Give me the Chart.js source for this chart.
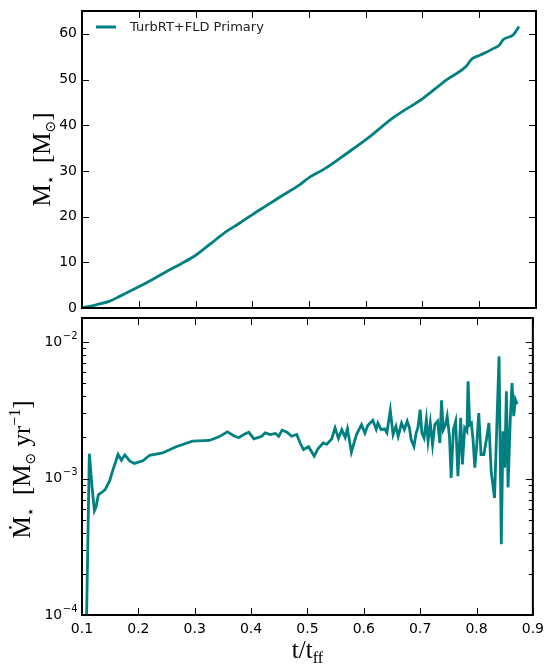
<!DOCTYPE html>
<html>
<head>
<meta charset="utf-8">
<script src="https://cdn.jsdelivr.net/npm/chart.js@4.4.1/dist/chart.umd.min.js"></script>
<style>
    html, body { margin: 0; padding: 0; background: #fff; }
    canvas { display: block; }
</style>
</head>
<body>
<canvas id="mass-chart" width="550" height="312"></canvas>
<canvas id="rate-chart" width="550" height="353"></canvas>
<script>
(function () {
    "use strict";

    // Data
    const seriesLabel = "TurbRT+FLD Primary";

    const massTime = [0.100, 0.125, 0.149, 0.167, 0.185, 0.201, 0.225, 0.249, 0.275, 0.301,
        0.327, 0.354, 0.378, 0.401, 0.425, 0.449, 0.484, 0.502, 0.528, 0.565,
        0.602, 0.649, 0.701, 0.743, 0.777, 0.786, 0.801, 0.822, 0.836, 0.842,
        0.860, 0.870];
    const massValues = [0, 0.7, 1.5, 2.6, 3.7, 4.7, 6.3, 8.0, 9.7, 11.6,
        14.1, 16.7, 18.6, 20.5, 22.4, 24.3, 27.0, 28.7, 30.5, 33.7,
        37.0, 41.7, 45.9, 50.0, 52.9, 54.4, 55.3, 56.6, 57.6, 58.7,
        59.8, 61.6];

    const rateTime = [0.107, 0.113, 0.118, 0.122, 0.125, 0.129, 0.135, 0.141, 0.149, 0.155,
        0.164, 0.170, 0.176, 0.185, 0.193, 0.208, 0.220, 0.243, 0.267, 0.296,
        0.326, 0.343, 0.358, 0.370, 0.378, 0.387, 0.396, 0.405, 0.419, 0.425,
        0.434, 0.443, 0.449, 0.455, 0.464, 0.472, 0.481, 0.487, 0.493, 0.502,
        0.512, 0.519, 0.528, 0.534, 0.543, 0.549, 0.555, 0.561, 0.567, 0.571,
        0.578, 0.587, 0.596, 0.602, 0.607, 0.616, 0.622, 0.625, 0.631, 0.637,
        0.641, 0.647, 0.652, 0.657, 0.661, 0.667, 0.672, 0.677, 0.681, 0.684,
        0.689, 0.693, 0.696, 0.700, 0.703, 0.707, 0.711, 0.714, 0.718, 0.722,
        0.726, 0.731, 0.735, 0.738, 0.741, 0.745, 0.748, 0.752, 0.755, 0.759,
        0.763, 0.767, 0.772, 0.775, 0.779, 0.783, 0.785, 0.788, 0.791, 0.794,
        0.797, 0.800, 0.804, 0.808, 0.813, 0.818, 0.822, 0.826, 0.832, 0.835,
        0.840, 0.844, 0.847, 0.850, 0.853, 0.856, 0.860, 0.863, 0.866, 0.869,
        0.872];
    const rateValues = [5e-5, 1.52e-3, 8.5e-4, 5.8e-4, 6.2e-4, 7.6e-4, 7.9e-4, 8.3e-4, 9.6e-4, 1.16e-3,
        1.50e-3, 1.36e-3, 1.49e-3, 1.34e-3, 1.29e-3, 1.35e-3, 1.48e-3, 1.54e-3, 1.71e-3, 1.88e-3,
        1.90e-3, 2.02e-3, 2.20e-3, 2.05e-3, 1.99e-3, 2.10e-3, 2.18e-3, 1.95e-3, 2.04e-3, 2.16e-3,
        2.10e-3, 2.14e-3, 2.04e-3, 2.26e-3, 2.18e-3, 2.04e-3, 2.10e-3, 1.82e-3, 1.63e-3, 1.71e-3,
        1.46e-3, 1.66e-3, 1.82e-3, 1.78e-3, 1.95e-3, 2.35e-3, 1.97e-3, 2.28e-3, 2.00e-3, 2.32e-3,
        1.56e-3, 2.10e-3, 2.48e-3, 2.15e-3, 2.45e-3, 2.67e-3, 2.30e-3, 2.55e-3, 2.28e-3, 2.31e-3,
        2.16e-3, 3.16e-3, 2.10e-3, 2.41e-3, 2.04e-3, 2.55e-3, 2.28e-3, 2.63e-3, 2.35e-3, 1.93e-3,
        1.72e-3, 2.16e-3, 2.35e-3, 3.20e-3, 2.16e-3, 1.98e-3, 2.70e-3, 1.88e-3, 2.55e-3, 1.77e-3,
        2.48e-3, 2.63e-3, 1.82e-3, 3.74e-3, 2.28e-3, 2.48e-3, 2.86e-3, 2.04e-3, 1.01e-3, 2.28e-3,
        2.63e-3, 1.04e-3, 2.78e-3, 1.27e-3, 2.35e-3, 2.22e-3, 5.15e-3, 2.48e-3, 2.55e-3, 1.88e-3,
        1.20e-3, 1.68e-3, 3.02e-3, 1.50e-3, 1.50e-3, 1.98e-3, 2.55e-3, 1.13e-3, 7.2e-4, 1.78e-3,
        7.85e-3, 3.3e-4, 2.22e-3, 1.20e-3, 4.35e-3, 8.6e-4, 2.78e-3, 5.0e-3, 2.86e-3, 3.78e-3,
        3.50e-3];

    const timeTicks = [0.1, 0.2, 0.3, 0.4, 0.5, 0.6, 0.7, 0.8, 0.9];
    const massTicks = [0, 10, 20, 30, 40, 50, 60];
    const rateTicks = [1e-4, 1e-3, 1e-2];

    const TEAL = "#008080";
    const TICK_FONT = {family: "'DejaVu Sans', sans-serif", size: 14};
    const SERIF = "'Liberation Serif', 'DejaVu Serif', serif";
    const SYM = "'DejaVu Sans', sans-serif";

    // Inward ticks on all four sides, plus the black frame
    const frameTicks = {
        id: 'frameTicks',
        afterDraw(chart) {
            const ctx = chart.ctx;
            const a = chart.chartArea;
            const xs = chart.scales.x;
            const ys = chart.scales.y;
            ctx.save();
            ctx.strokeStyle = '#000';
            ctx.lineWidth = 1;
            ctx.beginPath();
            xs.ticks.forEach(function (t) {
                const px = Math.round(xs.getPixelForValue(t.value)) + 0.5;
                ctx.moveTo(px, a.bottom); ctx.lineTo(px, a.bottom - 7);
                ctx.moveTo(px, a.top); ctx.lineTo(px, a.top + 7);
            });
            ys.ticks.forEach(function (t) {
                const py = Math.round(ys.getPixelForValue(t.value)) + 0.5;
                ctx.moveTo(a.left, py); ctx.lineTo(a.left + 7, py);
                ctx.moveTo(a.right, py); ctx.lineTo(a.right - 7, py);
            });
            if (ys.type === 'logarithmic') {
                for (let d = ys.min; d < ys.max; d *= 10) {
                    for (let m = 2; m <= 9; m++) {
                        const v = d * m;
                        if (v > ys.max) break;
                        const py = Math.round(ys.getPixelForValue(v)) + 0.5;
                        ctx.moveTo(a.left, py); ctx.lineTo(a.left + 4, py);
                        ctx.moveTo(a.right, py); ctx.lineTo(a.right - 4, py);
                    }
                }
            }
            ctx.stroke();
            ctx.lineWidth = 2;
            ctx.strokeRect(a.left, a.top, a.right - a.left, a.bottom - a.top);
            ctx.restore();
        }
    };

    // Text made of pieces with their own size and offset (sub/superscripts)
    function drawRich(ctx, parts, cx, cy, angle) {
        ctx.save();
        ctx.translate(cx, cy);
        ctx.rotate(angle);
        ctx.fillStyle = '#000';
        ctx.textAlign = 'left';
        ctx.textBaseline = 'alphabetic';
        let w = 0;
        parts.forEach(function (p) {
            ctx.font = p.font;
            p.w = ctx.measureText(p.text).width;
            w += p.w;
        });
        let x = -w / 2;
        parts.forEach(function (p) {
            ctx.font = p.font;
            ctx.fillText(p.text, x, p.dy || 0);
            x += p.w;
        });
        ctx.restore();
    }

    const main = '25px ' + SERIF;
    const small = '16px ' + SERIF;
    const sym = '14px ' + SYM;

    const massTitle = {
        id: 'massTitle',
        afterDraw(chart) {
            const a = chart.chartArea;
            drawRich(chart.ctx, [
                {text: 'M', font: main},
                {text: '\u22C6', font: sym, dy: 5},
                {text: '  [M', font: main},
                {text: '\u2299', font: sym, dy: 5},
                {text: ']', font: main}
            ], 50, (a.top + a.bottom) / 2, -Math.PI / 2);
        }
    };

    const rateTitles = {
        id: 'rateTitles',
        afterDraw(chart) {
            const a = chart.chartArea;
            drawRich(chart.ctx, [
                {text: '\u1E40', font: main},
                {text: '\u22C6', font: sym, dy: 5},
                {text: '  [M', font: main},
                {text: '\u2299', font: sym, dy: 5},
                {text: ' yr', font: main},
                {text: '\u22121', font: small, dy: -10},
                {text: ']', font: main}
            ], 30, (a.top + a.bottom) / 2 + 3, -Math.PI / 2);
            drawRich(chart.ctx, [
                {text: 't/t', font: main},
                {text: 'ff', font: small, dy: 5}
            ], (a.left + a.right) / 2, a.bottom + 43, 0);
        }
    };

    // Log tick labels as 10 with a raised exponent
    const powerLabels = {
        id: 'powerLabels',
        afterDraw(chart) {
            const ctx = chart.ctx;
            const ys = chart.scales.y;
            const right = chart.chartArea.left - 5;
            ctx.save();
            ctx.fillStyle = '#000';
            ctx.textBaseline = 'middle';
            ctx.textAlign = 'left';
            ys.ticks.forEach(function (t) {
                const py = ys.getPixelForValue(t.value);
                const exp = '\u2212' + Math.round(-Math.log10(t.value));
                ctx.font = '14px ' + SYM;
                const wb = ctx.measureText('10').width;
                ctx.font = '10px ' + SYM;
                const we = ctx.measureText(exp).width;
                const x0 = right - wb - we;
                ctx.font = '14px ' + SYM;
                ctx.fillText('10', x0, py);
                ctx.font = '10px ' + SYM;
                ctx.fillText(exp, x0 + wb + 0.5, py - 6);
            });
            ctx.restore();
        }
    };

    // Legend inside the upper left corner
    const insideLegend = {
        id: 'insideLegend',
        afterDraw(chart) {
            const ctx = chart.ctx;
            const a = chart.chartArea;
            const ds = chart.data.datasets[0];
            const y = a.top + 16;
            ctx.save();
            ctx.strokeStyle = ds.borderColor;
            ctx.lineWidth = 3;
            ctx.beginPath();
            ctx.moveTo(a.left + 14, y);
            ctx.lineTo(a.left + 34, y);
            ctx.stroke();
            ctx.fillStyle = '#222';
            ctx.font = '13px ' + SYM;
            ctx.textBaseline = 'middle';
            ctx.fillText(ds.label, a.left + 48, y + 0.5);
            ctx.restore();
        }
    };

    function points(xs, ys) {
        return xs.map(function (x, i) {
            return {x: x, y: ys[i]};
        });
    }

    function fixTicks(list) {
        return function (scale) {
            scale.ticks = list.map(function (v) {
                return {value: v};
            });
        };
    }

    // keep edge labels from shrinking the plot area
    function yFit(scale) {
        scale.width = 82;
        scale.paddingTop = 0;
        scale.paddingBottom = 0;
    }

    const noGrid = {display: false, drawTicks: false};

    // Stellar mass
    const massChart = new Chart(document.getElementById('mass-chart'), {
        type: 'line',
        data: {
            datasets: [{
                label: seriesLabel,
                data: points(massTime, massValues),
                borderColor: TEAL,
                borderWidth: 2.8,
                pointRadius: 0,
                cubicInterpolationMode: 'monotone',
                fill: false
            }]
        },
        options: {
            responsive: false,
            animation: false,
            devicePixelRatio: 1,
            layout: {padding: {top: 11, right: 14, bottom: 0, left: 0}},
            plugins: {legend: {display: false}, tooltip: {enabled: false}},
            scales: {
                x: {
                    type: 'linear', min: 0.1, max: 0.9,
                    afterBuildTicks: fixTicks(timeTicks),
                    ticks: {display: false},
                    grid: noGrid,
                    border: {display: false},
                    afterFit: function (s) { s.height = 4; s.paddingLeft = 0; s.paddingRight = 0; }
                },
                y: {
                    type: 'linear', min: 0, max: 65,
                    afterBuildTicks: fixTicks(massTicks),
                    ticks: {font: TICK_FONT, color: '#000', padding: 5},
                    grid: noGrid,
                    border: {display: false},
                    afterFit: yFit
                }
            }
        },
        plugins: [frameTicks, insideLegend, massTitle]
    });

    // Accretion rate
    const rateChart = new Chart(document.getElementById('rate-chart'), {
        type: 'line',
        data: {
            datasets: [{
                label: seriesLabel,
                data: points(rateTime, rateValues),
                borderColor: TEAL,
                borderWidth: 2.8,
                pointRadius: 0,
                tension: 0,
                fill: false
            }]
        },
        options: {
            responsive: false,
            animation: false,
            devicePixelRatio: 1,
            layout: {padding: {top: 6, right: 14, bottom: 0, left: 0}},
            plugins: {legend: {display: false}, tooltip: {enabled: false}},
            scales: {
                x: {
                    type: 'linear', min: 0.1, max: 0.9,
                    afterBuildTicks: fixTicks(timeTicks),
                    ticks: {
                        font: TICK_FONT, color: '#000', padding: 6, maxRotation: 0,
                        callback: function (v) { return v.toFixed(1); }
                    },
                    grid: noGrid,
                    border: {display: false},
                    afterFit: function (s) { s.height = 50; }
                },
                y: {
                    type: 'logarithmic', min: 1e-4, max: 0.015,
                    afterBuildTicks: fixTicks(rateTicks),
                    ticks: {display: false},
                    grid: noGrid,
                    border: {display: false},
                    afterFit: yFit
                }
            }
        },
        plugins: [frameTicks, powerLabels, rateTitles]
    });

    useConst(massChart);
    useConst(rateChart);

    function useConst(c) {
    }
})();
</script>
</body>
</html>
